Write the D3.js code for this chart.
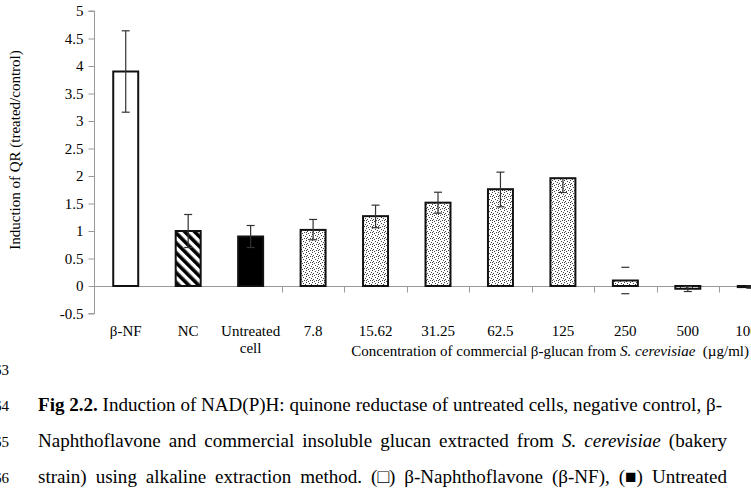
<!DOCTYPE html>
<html><head><meta charset="utf-8">
<script src="https://cdn.jsdelivr.net/npm/d3@7"></script>
<style>
body{margin:0;background:#fff;overflow:hidden}
svg{display:block}
text{font-family:"Liberation Serif","Times New Roman",serif;fill:#000}
</style>
</head><body>
<svg id="c" width="751" height="497"></svg>
<script>
// ---- data ----
const categories = ["β-NF", "NC", "Untreated\ncell", "7.8", "15.62", "31.25", "62.5", "125", "250", "500", "1000"];
const values     = [3.90, 1.00, 0.90, 1.02, 1.27, 1.515, 1.76, 1.96, 0.10, -0.05, -0.02];
const errUp      = [0.74, 0.30, 0.20, 0.19, 0.20, 0.19, 0.31, 0.00, 0.24, 0.04, 0.02];
const errDown    = [0.74, 0.30, 0.20, 0.18, 0.21, 0.19, 0.32, 0.26, 0.24, 0.05, 0.02];
const fills      = ["open", "hatch", "solid", "dots", "dots", "dots", "dots", "dots", "dots", "dots", "dots"];
const yTicks     = [-0.5, 0, 0.5, 1, 1.5, 2, 2.5, 3, 3.5, 4, 4.5, 5];
const yTitle = "Induction of QR (treated/control)";
const captionLines = [
  "**Fig **2.2.** Induction of NAD(P)H: quinone reductase of untreated cells, negative control, β-",
  "Naphthoflavone and commercial insoluble glucan extracted from _S._ _cerevisiae_ (bakery",
  "strain) using alkaline extraction method. (□) β-Naphthoflavone (β-NF), (■) Untreated"
];
const lineNumbers = ["63", "64", "65", "66"];

// ---- chart ----
const svg = d3.select("#c");
const defs = svg.append("defs");

const hatch = defs.append("pattern").attr("id", "hatch")
  .attr("patternUnits", "userSpaceOnUse").attr("width", 7).attr("height", 7)
  .attr("patternTransform", "rotate(-45)");
hatch.append("rect").attr("width", 7).attr("height", 7).attr("fill", "#fff");
hatch.append("rect").attr("x", 0).attr("width", 3.6).attr("height", 7).attr("fill", "#000");

const dots = defs.append("pattern").attr("id", "dots")
  .attr("patternUnits", "userSpaceOnUse").attr("width", 6).attr("height", 6);
dots.append("rect").attr("width", 6).attr("height", 6).attr("fill", "#fff");
[[0,0],[3,1],[1,3],[4,4],[2,5],[5,2],[0,4]].forEach(([a,b]) =>
  dots.append("rect").attr("x", a).attr("y", b).attr("width", 1).attr("height", 1).attr("fill", "#444"));

const y = d3.scaleLinear().domain([-0.5, 5]).range([313.5, 11]);
const x = d3.scaleBand().domain(categories).range([94.5, 781.5]).padding(0);
const step = x.step();
const barW = step * 0.4;
const cx = c => x(c) + step / 2;

// y axis
const yAxis = svg.append("g").attr("transform", "translate(94.5,0)")
  .call(d3.axisLeft(y).tickValues(yTicks).tickSize(6).tickPadding(5).tickFormat(d => String(d)));
yAxis.select(".domain").attr("stroke", "#999").attr("d", `M-6,${y(-0.5)}H0V${y(5)}H-6`);
yAxis.selectAll(".tick line").attr("stroke", "#999");
yAxis.selectAll(".tick text").attr("font-size", 15).attr("font-family", "Liberation Serif").attr("fill", "#000");

// x axis line at zero
svg.append("line").attr("x1", 94.5).attr("x2", 751).attr("y1", Math.round(y(0)) + 0.5).attr("y2", Math.round(y(0)) + 0.5)
  .attr("stroke", "#999");
svg.append("g").selectAll("line").data(categories.slice(3)).join("line")
  .attr("x1", c => Math.round(x(c)) + 0.5).attr("x2", c => Math.round(x(c)) + 0.5)
  .attr("y1", Math.round(y(0)) + 0.5).attr("y2", Math.round(y(0)) + 6.5).attr("stroke", "#999");

// bars
const fillOf = f => f === "open" ? "#fff" : f === "solid" ? "#000" : f === "hatch" ? "url(#hatch)" : "url(#dots)";
svg.append("g").selectAll("rect").data(categories).join("rect")
  .attr("x", c => cx(c) - barW / 2)
  .attr("y", (c, i) => y(Math.max(0, values[i])))
  .attr("width", barW)
  .attr("height", (c, i) => Math.abs(y(values[i]) - y(0)))
  .attr("fill", (c, i) => fillOf(fills[i]))
  .attr("stroke", "#111").attr("stroke-width", 2);

// error bars
const eb = svg.append("g").attr("stroke", "#333").attr("stroke-width", 1.2);
categories.forEach((c, i) => {
  const xc = cx(c), top = values[i] + errUp[i], bot = values[i] - errDown[i];
  if (i !== 8) {
    eb.append("line").attr("x1", xc).attr("x2", xc).attr("y1", y(top)).attr("y2", y(bot));
  }
  if (errUp[i] > 0) eb.append("line").attr("x1", xc - 4).attr("x2", xc + 4).attr("y1", y(top)).attr("y2", y(top));
  if (errDown[i] > 0) eb.append("line").attr("x1", xc - 4).attr("x2", xc + 4).attr("y1", y(bot)).attr("y2", y(bot));
});

// category labels
const lab = svg.append("g").attr("font-size", 15).attr("text-anchor", "middle");
categories.forEach(c => {
  c.split("\n").forEach((ln, k) => {
    lab.append("text").attr("x", cx(c)).attr("y", 336 + k * 17).text(ln);
  });
});

// x title
const xt = svg.append("text").attr("x", 749).attr("y", 356).attr("font-size", 15).attr("text-anchor", "end")
  .attr("xml:space", "preserve");
xt.append("tspan").text("Concentration of commercial β-glucan from ");
xt.append("tspan").attr("font-style", "italic").text("S. cerevisiae");
xt.append("tspan").text("  (µg/ml)");

// y title
svg.append("text").attr("transform", "translate(20,150) rotate(-90)")
  .attr("text-anchor", "middle").attr("font-size", 15).text(yTitle);

// line numbers
const lnY = [375, 411, 447, 483];
lineNumbers.forEach((t, i) => svg.append("text").attr("x", 9).attr("y", lnY[i])
  .attr("text-anchor", "end").attr("font-family", "Liberation Sans, Arial, sans-serif").attr("font-size", 15).text(t));

// caption, justified
const capY = [411, 447, 483];
const x0 = 38, x1 = 727, line1End = 722;
const parse = line => line.split(" ").map(w => {
  let bold = false, ital = false, t = w;
  if (t.startsWith("**")) { bold = true; t = t.replace(/\*\*/g, ""); }
  if (t.startsWith("_")) { ital = true; t = t.replace(/_/g, ""); }
  return {t, bold, ital};
});
// find font size so that line 1 with normal spaces spans x0..line1End
const probe = svg.append("text").attr("font-size", 18).attr("xml:space", "preserve");
parse(captionLines[0]).forEach((w, k) => probe.append("tspan")
  .attr("font-weight", w.bold ? "bold" : null).text((k ? " " : "") + w.t));
const natural = probe.node().getComputedTextLength();
probe.remove();
const fs = 18 * (line1End - x0) / natural;
captionLines.forEach((line, li) => {
  const words = parse(line);
  const els = words.map(w => svg.append("text").attr("y", capY[li]).attr("font-size", fs)
    .attr("font-weight", w.bold ? "bold" : null).attr("font-style", w.ital ? "italic" : null).text(w.t));
  const widths = els.map(e => e.node().getComputedTextLength());
  const total = widths.reduce((a, b) => a + b, 0);
  const end = li === 0 ? line1End : x1;
  const gap = (end - x0 - total) / (words.length - 1);
  let cur = x0;
  els.forEach((e, k) => { e.attr("x", cur); cur += widths[k] + gap; });
});
</script>
</body></html>
